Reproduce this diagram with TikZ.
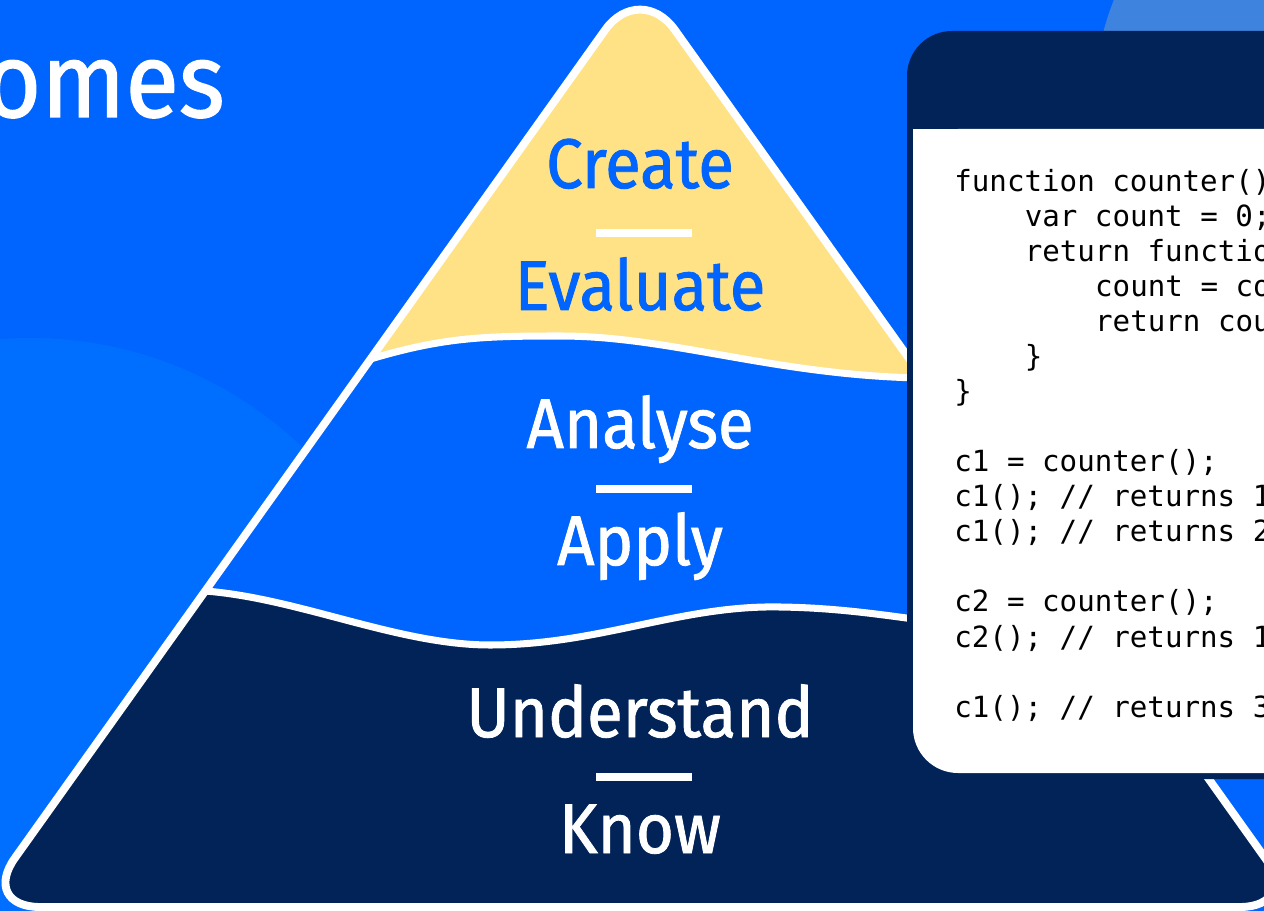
\documentclass[tikz,border=0pt]{standalone}
\usepackage{fontspec}
\setmainfont{Fira Sans}
\setmonofont{DejaVu Sans Mono}
\newfontfamily\levelfont{Fira Sans}[FakeBold=1.2,FakeStretch=0.93]
\usetikzlibrary{calc}

\definecolor{bgblue}{RGB}{0,100,254}
\definecolor{lightblue}{RGB}{0,111,255}
\definecolor{greyblue}{RGB}{62,131,222}
\definecolor{navy}{RGB}{1,35,87}
\definecolor{sand}{RGB}{254,226,133}

\tikzset{
  level/.style={text=white,font=\levelfont\fontsize{40}{40}\selectfont,anchor=base,inner sep=0pt},
  toplevel/.style={level,text=bgblue},
  codeline/.style={font=\ttfamily\fontsize{16.6}{20}\selectfont,anchor=base west,inner sep=0pt,text=black},
  wave/.style={draw=white,line width=4pt},
}

\begin{document}
\begin{tikzpicture}[x=0.02cm,y=-0.02cm]
  \useasboundingbox (0,0) rectangle (1264,911);
  \fill[bgblue] (0,0) rectangle (1264,911);
  \fill[lightblue] (30,732) circle (394);
  \fill[greyblue] (1393,110) circle (300);

  \node[text=white,font=\levelfont\fontsize{60}{60}\selectfont,anchor=base east,inner sep=0pt] (title) at (225,117) {omes};

  % pyramid
  \coordinate (apex) at (640,-19);
  \coordinate (bl) at (-20,907);
  \coordinate (br) at (1300,907);
  \begin{scope}
    \clip[rounded corners=1.2cm] (640,907) -- (bl) -- (apex) -- (br) -- cycle;
    \fill[navy] (-100,-100) rectangle (1400,1000);
    \fill[bgblue] (-100,-100) -- (-100,600) -- (150,592)
      .. controls (260,578) and (380,645) .. (490,645)
      .. controls (600,645) and (680,605) .. (780,607)
      .. controls (850,608) and (900,618) .. (960,625)
      -- (1400,625) -- (1400,-100) -- cycle;
    \fill[sand] (-100,-100) -- (-100,380) -- (330,372)
      .. controls (430,338) and (470,336) .. (560,336)
      .. controls (680,336) and (790,382) .. (960,378)
      -- (1400,378) -- (1400,-100) -- cycle;
    \draw[wave] (150,592)
      .. controls (260,578) and (380,645) .. (490,645)
      .. controls (600,645) and (680,605) .. (780,607)
      .. controls (850,608) and (900,618) .. (960,625);
    \draw[wave] (330,372)
      .. controls (430,338) and (470,336) .. (560,336)
      .. controls (680,336) and (790,382) .. (960,378);
  \end{scope}
  \draw[white,line width=4.5pt,rounded corners=1.2cm] (640,907) -- (bl) -- (apex) -- (br) -- cycle;

  % levels
  \node[toplevel] (create) at (640,188) {Create};
  \fill[white] (596,229) rectangle (692,237);
  \node[toplevel] (evaluate) at (640,310) {Evaluate};
  \node[level] (analyse) at (640,448) {Analyse};
  \fill[white] (596,485) rectangle (692,493);
  \node[level] (apply) at (640,565) {Apply};
  \node[level] (understand) at (640,737) {Understand};
  \fill[white] (596,773) rectangle (692,781);
  \node[level] (know) at (640,853) {Know};

  % code panel
  \fill[navy,rounded corners=0.9cm] (907,31) rectangle (1350,779);
  \fill[white,rounded corners=0.9cm] (913,129) rectangle (1350,773);
  \fill[white] (913,129) rectangle (1350,300);

  \node[codeline] (l1) at (954,192) {function counter()};
  \node[codeline] (l2) at (1024.4,227) {var count = 0;};
  \node[codeline] (l3) at (1024.4,262) {return functio};
  \node[codeline] (l4) at (1094.8,297) {count = co};
  \node[codeline] (l5) at (1094.8,332) {return cou};
  \node[codeline] (l6) at (1024.4,367) {\}};
  \node[codeline] (l7) at (954,402) {\}};
  \node[codeline] (l9) at (954,472) {c1 = counter();};
  \node[codeline] (l10) at (954,507) {c1(); // returns 1};
  \node[codeline] (l11) at (954,542) {c1(); // returns 2};
  \node[codeline] (l13) at (954,612) {c2 = counter();};
  \node[codeline] (l14) at (954,647) {c2(); // returns 1};
  \node[codeline] (l16) at (954,717) {c1(); // returns 3};
\end{tikzpicture}
\end{document}
